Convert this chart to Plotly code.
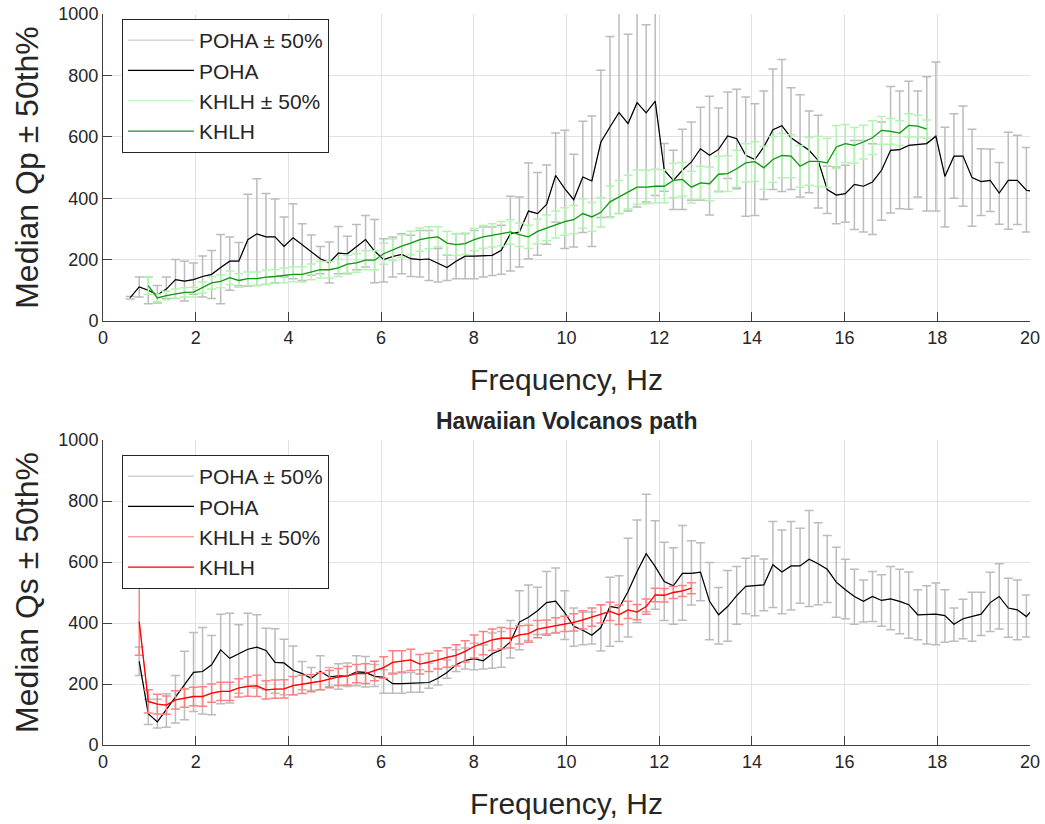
import numpy as np
import plotly.graph_objects as go

# Frequency grid (Hz)
freq = [0.586, 0.781, 0.977, 1.172, 1.367, 1.563, 1.758, 1.953, 2.148, 2.344,
        2.539, 2.734, 2.930, 3.125, 3.320, 3.516, 3.711, 3.906, 4.102, 4.297,
        4.492, 4.688, 4.883, 5.078, 5.273, 5.469, 5.664, 5.859, 6.055, 6.250,
        6.445, 6.641, 6.836, 7.031, 7.227, 7.422, 7.617, 7.813, 8.008, 8.203,
        8.398, 8.594, 8.789, 8.984, 9.180, 9.375, 9.570, 9.766, 9.961, 10.156,
        10.352, 10.547, 10.742, 10.938, 11.133, 11.328, 11.523, 11.719, 11.914, 12.109,
        12.305, 12.500, 12.695, 12.891, 13.086, 13.281, 13.477, 13.672, 13.867, 14.063,
        14.258, 14.453, 14.648, 14.844, 15.039, 15.234, 15.430, 15.625, 15.820, 16.016,
        16.211, 16.406, 16.602, 16.797, 16.992, 17.188, 17.383, 17.578, 17.773, 17.969,
        18.164, 18.359, 18.555, 18.750, 18.945, 19.141, 19.336, 19.531, 19.727, 19.922,
        20.117]

# ---------------- Qp (top) ----------------
qp_poha = [76, 111, 100, 85, 104, 135, 130, 135, 145, 152,
           174, 195, 195, 265, 284, 274, 274, 243, 271, 248,
           225, 203, 190, 221, 219, 241, 265, 228, 200, 210,
           217, 203, 200, 202, 187, 174, 195, 211, 211, 212,
           214, 230, 284, 290, 358, 350, 380, 474, 431, 395,
           469, 456, 583, 632, 679, 643, 711, 678, 716, 491,
           458, 491, 518, 561, 540, 559, 603, 594, 540, 526,
           567, 623, 636, 597, 575, 556, 523, 428, 410, 415,
           445, 439, 453, 491, 556, 558, 572, 575, 578, 602,
           471, 537, 537, 467, 454, 458, 417, 458, 458, 426,
           420]
qp_poha_hi = [80, 143, 143, 116, 143, 200, 195, 189, 212, 230,
              282, 274, 256, 413, 463, 415, 397, 339, 382, 317,
              280, 243, 257, 308, 276, 314, 344, 331, 268, 274,
              284, 279, 295, 295, 236, 214, 284, 284, 295, 306,
              306, 312, 406, 404, 515, 484, 508, 612, 621, 543,
              651, 668, 817, 927, 1080, 934, 1100, 965, 1150, 578,
              556, 625, 648, 696, 732, 694, 746, 755, 730, 708,
              749, 821, 852, 760, 737, 684, 670, 504, 502, 507,
              588, 588, 577, 648, 764, 749, 781, 749, 796, 844,
              631, 675, 700, 625, 561, 560, 516, 615, 605, 565,
              560]
qp_poha_lo = [72, 78, 56, 59, 73, 73, 65, 87, 78, 73,
              56, 100, 115, 113, 116, 119, 125, 143, 138, 132,
              149, 154, 124, 154, 154, 167, 176, 125, 127, 143,
              154, 145, 143, 132, 127, 132, 138, 138, 138, 143,
              148, 152, 163, 176, 203, 214, 250, 322, 236, 241,
              288, 243, 337, 339, 350, 358, 371, 388, 409, 423,
              363, 363, 393, 393, 345, 423, 464, 431, 341, 344,
              396, 428, 422, 428, 404, 418, 368, 350, 317, 322,
              298, 290, 282, 328, 352, 366, 364, 404, 358, 358,
              306, 400, 374, 309, 344, 357, 315, 299, 314, 290,
              290]

# KHLH Qp, from freq index 2 to 88
qp_khlh = [115, 75, 83, 89, 93, 94, 109, 124, 129, 141,
           132, 138, 138, 143, 145, 149, 152, 152, 160, 167,
           167, 173, 185, 189, 198, 198, 219, 232, 244, 254,
           265, 271, 274, 254, 249, 252, 265, 274, 279, 284,
           290, 281, 274, 292, 303, 314, 324, 330, 350, 339,
           354, 388, 404, 420, 436, 436, 439, 439, 458, 461,
           436, 450, 447, 478, 480, 496, 515, 519, 499, 526,
           539, 537, 504, 520, 520, 515, 567, 578, 572, 583,
           597, 621, 618, 612, 637, 635, 625]
qp_khlh_err = [28, 12, 14, 15, 15, 16, 18, 20, 21, 22,
               22, 22, 22, 23, 23, 24, 24, 25, 26, 27,
               27, 28, 29, 30, 31, 31, 34, 35, 37, 38,
               38, 36, 33, 38, 36, 35, 36, 37, 38, 40,
               40, 38, 38, 40, 42, 44, 45, 46, 48, 47,
               48, 52, 54, 55, 56, 55, 55, 54, 56, 55,
               52, 54, 55, 58, 58, 60, 62, 65, 70, 75,
               72, 70, 68, 78, 82, 80, 70, 62, 58, 55,
               55, 45, 42, 40, 38, 35, 30]

# ---------------- Qs (bottom) ----------------
# POHA Qs, from freq index 1 to 100
qs_poha = [274, 103, 76, 116, 154, 198, 238, 241, 263, 312,
           284, 299, 314, 321, 310, 271, 269, 245, 234, 219,
           241, 223, 227, 225, 240, 238, 225, 222, 201, 201,
           203, 205, 205, 219, 238, 263, 277, 283, 276, 299,
           312, 338, 403, 419, 440, 467, 472, 434, 389, 376,
           360, 385, 454, 449, 503, 569, 627, 585, 536, 522,
           563, 563, 567, 471, 427, 454, 490, 520, 522, 525,
           591, 567, 587, 587, 609, 594, 576, 534, 509, 487,
           471, 487, 474, 479, 471, 460, 427, 429, 429, 424,
           396, 414, 421, 429, 467, 487, 449, 443, 421, 455]
qs_poha_hi = [321, 150, 150, 168, 228, 307, 369, 385, 359, 429,
              432, 394, 432, 427, 383, 381, 347, 325, 274, 254,
              293, 254, 266, 269, 293, 290, 264, 247, 236, 236,
              238, 247, 268, 251, 279, 312, 318, 334, 328, 367,
              372, 408, 506, 525, 517, 569, 580, 506, 449, 435,
              436, 460, 550, 555, 678, 738, 822, 735, 665, 647,
              720, 670, 663, 598, 516, 572, 585, 612, 620, 610,
              733, 705, 733, 711, 769, 729, 687, 648, 609, 576,
              541, 569, 558, 585, 576, 567, 509, 522, 531, 509,
              449, 478, 501, 501, 566, 594, 547, 541, 492, 480]
qs_poha_lo = [228, 67, 56, 58, 72, 83, 110, 102, 99, 135,
              138, 170, 192, 187, 181, 170, 165, 165, 181, 179,
              181, 192, 183, 192, 194, 190, 192, 170, 170, 170,
              173, 173, 186, 197, 219, 241, 249, 247, 249, 252,
              255, 285, 312, 343, 362, 365, 369, 346, 324, 329,
              331, 308, 324, 339, 354, 402, 437, 445, 408, 396,
              409, 459, 473, 345, 331, 340, 396, 430, 424, 440,
              451, 430, 443, 465, 454, 460, 467, 419, 414, 396,
              403, 405, 389, 378, 365, 350, 345, 331, 329, 337,
              340, 348, 340, 359, 372, 380, 353, 345, 354, 340]

# KHLH Qs, from freq index 1 to 62
qs_khlh = [405, 143, 134, 131, 148, 154, 159, 159, 170, 176,
           176, 187, 192, 194, 181, 183, 184, 195, 199, 203,
           209, 216, 223, 227, 234, 234, 243, 254, 271, 274,
           279, 265, 271, 279, 287, 294, 307, 323, 334, 345,
           350, 350, 361, 365, 380, 385, 392, 397, 402, 410,
           419, 430, 438, 427, 443, 436, 454, 492, 491, 500,
           505, 514]
qs_khlh_err = [111, 38, 32, 30, 30, 30, 30, 32, 30, 30,
               30, 30, 32, 35, 30, 30, 30, 30, 30, 28,
               28, 28, 28, 30, 30, 32, 32, 35, 38, 35,
               35, 32, 30, 30, 32, 35, 35, 38, 38, 35,
               35, 32, 30, 28, 28, 25, 25, 25, 28, 30,
               30, 30, 30, 32, 28, 25, 25, 22, 22, 20,
               18, 18]

FONT = "Liberation Sans, Arial, Helvetica, sans-serif"
TXT = "#262626"
GREY = "rgb(188,188,188)"
LGREEN = "rgb(178,245,178)"
GREEN = "rgb(20,150,20)"
LRED = "rgb(255,128,128)"
RED = "rgb(255,0,0)"

f = np.array(freq)
fig = go.Figure()


def err_asym(val, hi, lo):
    v = np.array(val, float)
    return np.array(hi, float) - v, v - np.array(lo, float)


# top panel
up, dn = err_asym(qp_poha, qp_poha_hi, qp_poha_lo)
fig.add_trace(go.Scatter(x=f, y=qp_poha, mode="lines", name="POHA ± 50%",
                         line=dict(color=GREY, width=1),
                         error_y=dict(type="data", symmetric=False, array=up, arrayminus=dn,
                                      color=GREY, thickness=1.5, width=4.5),
                         xaxis="x", yaxis="y", legend="legend"))
fig.add_trace(go.Scatter(x=f, y=qp_poha, mode="lines", name="POHA",
                         line=dict(color="black", width=1.2),
                         xaxis="x", yaxis="y", legend="legend"))
fk = f[2:2 + len(qp_khlh)]
fig.add_trace(go.Scatter(x=fk, y=qp_khlh, mode="lines", name="KHLH ± 50%",
                         line=dict(color=LGREEN, width=1),
                         error_y=dict(type="data", array=qp_khlh_err,
                                      color=LGREEN, thickness=1.5, width=4.5),
                         xaxis="x", yaxis="y", legend="legend"))
fig.add_trace(go.Scatter(x=fk, y=qp_khlh, mode="lines", name="KHLH",
                         line=dict(color=GREEN, width=1.3),
                         xaxis="x", yaxis="y", legend="legend"))

# bottom panel
fb = f[1:1 + len(qs_poha)]
up, dn = err_asym(qs_poha, qs_poha_hi, qs_poha_lo)
fig.add_trace(go.Scatter(x=fb, y=qs_poha, mode="lines", name="POHA ± 50%",
                         line=dict(color=GREY, width=1),
                         error_y=dict(type="data", symmetric=False, array=up, arrayminus=dn,
                                      color=GREY, thickness=1.5, width=4.5),
                         xaxis="x2", yaxis="y2", legend="legend2"))
fig.add_trace(go.Scatter(x=fb, y=qs_poha, mode="lines", name="POHA",
                         line=dict(color="black", width=1.2),
                         xaxis="x2", yaxis="y2", legend="legend2"))
fr = f[1:1 + len(qs_khlh)]
fig.add_trace(go.Scatter(x=fr, y=qs_khlh, mode="lines", name="KHLH ± 50%",
                         line=dict(color=LRED, width=1),
                         error_y=dict(type="data", array=qs_khlh_err,
                                      color=LRED, thickness=1.5, width=4.5),
                         xaxis="x2", yaxis="y2", legend="legend2"))
fig.add_trace(go.Scatter(x=fr, y=qs_khlh, mode="lines", name="KHLH",
                         line=dict(color=RED, width=1.3),
                         xaxis="x2", yaxis="y2", legend="legend2"))

W, H = 1045, 824
xd = [103 / W, 1030 / W]
yd_top = [(H - 321) / H, (H - 14) / H]
yd_bot = [(H - 745) / H, (H - 440) / H]

axcommon = dict(showline=True, linecolor="#404040", linewidth=1, ticks="inside",
                ticklen=9, tickcolor="#404040", showgrid=True,
                gridcolor="rgb(225,225,225)", gridwidth=1, zeroline=False,
                tickfont=dict(family=FONT, size=18, color=TXT), mirror=False,
                automargin=False, ticklabeloverflow="allow")

xax = dict(axcommon, range=[0, 20], dtick=2, tick0=0, domain=xd,
           title=dict(text="Frequency, Hz", font=dict(family=FONT, size=30, color=TXT), standoff=22))
yax = dict(axcommon, range=[0, 1000], dtick=200, tick0=0)

legcommon = dict(bgcolor="white", bordercolor="#262626", borderwidth=1,
                 font=dict(family=FONT, size=21, color=TXT), xanchor="left", yanchor="top",
                 itemwidth=66, tracegroupgap=0)

fig.update_layout(
    width=W, height=H, margin=dict(l=0, r=0, t=0, b=0, autoexpand=False),
    paper_bgcolor="white", plot_bgcolor="white", showlegend=True,
    xaxis=dict(xax, anchor="y"),
    yaxis=dict(yax, domain=yd_top, anchor="x",
               title=dict(text="Median Qp ± 50th%", font=dict(family=FONT, size=32, color=TXT), standoff=10)),
    xaxis2=dict(xax, anchor="y2"),
    yaxis2=dict(yax, domain=yd_bot, anchor="x2",
                title=dict(text="Median Qs ± 50th%", font=dict(family=FONT, size=32, color=TXT), standoff=10)),
    legend=dict(legcommon, x=122 / W, y=(H - 19) / H),
    legend2=dict(legcommon, x=122 / W, y=(H - 455) / H),
    annotations=[dict(text="<b>Hawaiian Volcanos path</b>", x=(103 + 1030) / 2 / W,
                      y=(H - 421) / H,
                      xref="paper", yref="paper", showarrow=False, xanchor="center", yanchor="middle",
                      font=dict(family=FONT, size=23, color=TXT))],
)

fig.write_html("out.html", config={"displayModeBar": False},
               post_script="document.body.style.margin='0';document.body.style.overflow='hidden';")
